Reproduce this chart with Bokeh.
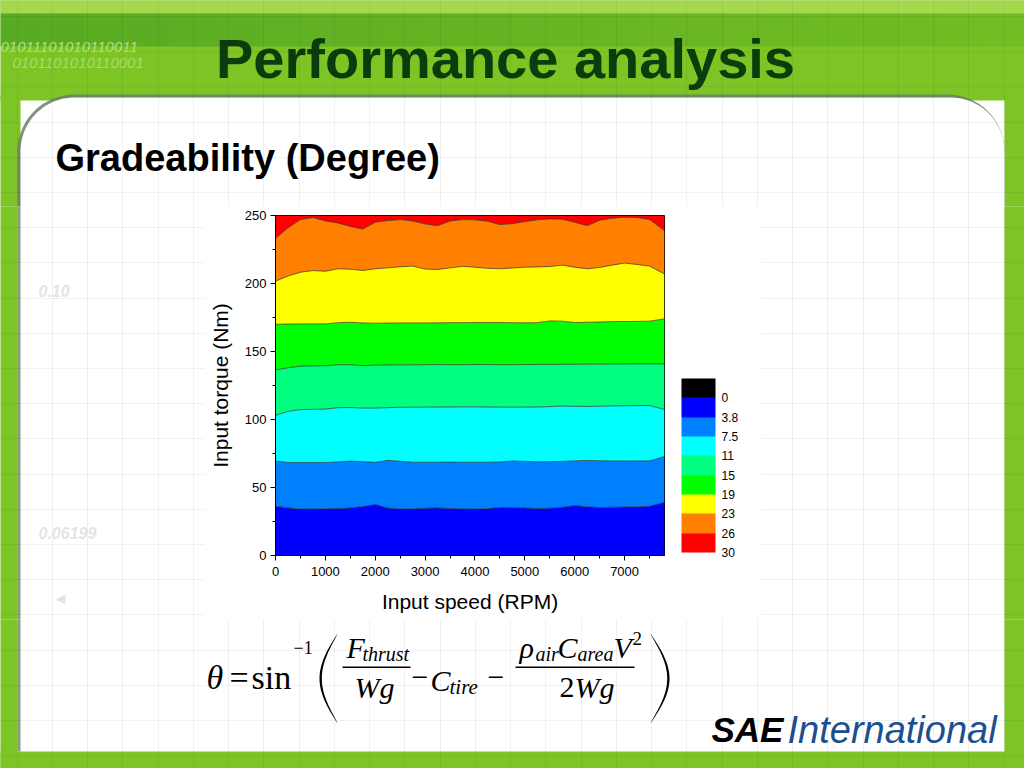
import numpy as np
from bokeh.plotting import figure
from bokeh.layouts import column, row
from bokeh.models import (Range1d, FixedTicker, ColorBar, LinearColorMapper, Grid,
                          AllLabels)
from bokeh.core.properties import value
from bokeh.embed import file_html
from bokeh.resources import INLINE

# ---------------- data ----------------
rpm = [0, 250, 500, 750, 1000, 1250, 1500, 1750, 2000, 2250, 2500, 2750, 3000, 3250,
       3500, 3750, 4000, 4250, 4500, 4750, 5000, 5250, 5500, 5750, 6000, 6250, 6500,
       6750, 7000, 7250, 7500, 7800]

# contour boundaries (Nm) between gradeability bands
c_3_8 = [36.3, 35.0, 34.1, 34.2, 34.3, 34.6, 35.0, 36.0, 37.5, 35.0, 34.1, 34.3, 34.8, 35.0,
         34.6, 34.2, 34.1, 34.5, 35.3, 35.3, 35.0, 34.6, 34.8, 35.5, 36.8, 35.8, 35.3,
         35.5, 35.6, 35.8, 36.2, 39.2]
c_7_5 = [69.4, 68.4, 68.4, 68.4, 68.4, 68.8, 69.4, 69.0, 68.5, 70.0, 69.3, 68.6, 68.6, 68.6,
         68.7, 68.6, 68.6, 68.6, 68.8, 69.5, 69.2, 68.9, 69.0, 69.2, 69.6, 69.9, 69.7,
         69.5, 69.5, 69.5, 69.6, 72.8]
c_11 = [103.0, 106.0, 107.3, 107.5, 107.6, 108.7, 108.8, 108.4, 108.4, 108.7, 109.0, 109.0,
        109.1, 109.2, 109.2, 109.3, 109.3, 109.2, 109.1, 109.1, 109.1, 109.2, 109.5, 109.9,
        109.7, 109.6, 109.8, 110.0, 110.1, 110.2, 110.3, 107.4]
c_15 = [136.5, 138.0, 139.3, 139.4, 139.5, 140.3, 140.3, 139.6, 140.0, 140.1, 140.2, 140.2,
        140.3, 140.4, 140.3, 140.3, 140.4, 140.4, 140.3, 140.3, 140.4, 140.5, 140.5, 140.6,
        140.6, 140.7, 140.7, 140.8, 140.8, 140.9, 140.9, 140.9]
c_19 = [170.0, 170.2, 170.3, 170.3, 170.3, 171.2, 171.5, 171.0, 170.8, 170.9, 171.0, 171.0,
        171.0, 171.1, 171.2, 171.2, 171.3, 171.3, 171.3, 171.2, 171.1, 171.2, 172.5, 172.3,
        171.3, 171.5, 171.7, 172.0, 172.0, 172.1, 172.3, 174.0]
c_23 = [201.7, 205.5, 208.3, 209.5, 209.0, 210.8, 210.5, 209.6, 210.8, 211.5, 212.3, 212.8,
        210.6, 210.3, 211.5, 212.6, 212.0, 211.2, 210.8, 211.4, 212.0, 212.2, 212.5, 213.5,
        212.0, 210.8, 211.8, 213.5, 215.0, 214.0, 212.8, 207.0]
c_26 = [233.0, 241.0, 247.0, 248.5, 246.0, 244.5, 242.0, 240.0, 245.0, 246.3, 247.0, 246.0,
        243.8, 242.5, 246.0, 247.0, 246.8, 245.8, 243.3, 244.0, 245.5, 246.8, 247.5, 247.3,
        245.0, 242.5, 246.5, 248.0, 248.8, 248.5, 247.0, 239.0]

torque_min, torque_max = 0, 250
rpm_min, rpm_max = 0, 7800

band_colors = ["#0000ff", "#0080ff", "#00ffff", "#00ff80", "#00ff00",
               "#ffff00", "#ff8000", "#ff0000"]
legend_colors = ["#000000"] + band_colors          # top to bottom
legend_levels = [0, 3.75, 7.5, 11.25, 15, 18.75, 22.5, 26.25, 30]
legend_labels = ["0", "3.8", "7.5", "11", "15", "19", "23", "26", "30"]

x_ticks = [0, 1000, 2000, 3000, 4000, 5000, 6000, 7000]
x_minor = [500, 1500, 2500, 3500, 4500, 5500, 6500, 7500]
y_ticks = [0, 50, 100, 150, 200, 250]
y_minor = [25, 75, 125, 175, 225]

title_text = "Performance analysis"
subtitle_text = "Gradeability (Degree)"
x_label = "Input speed (RPM)"
y_label = "Input torque (Nm)"

# ---------------- slide layout constants (pixels) ----------------
SW, SH = 1024, 768
TOP_H = 207            # header strip: 0 .. 207
ROW_Y0 = 206           # chart row overlaps header by 1px
MID_Y1 = 620           # bottom of chart row
BOT_Y0 = 619           # bottom strip overlaps chart row by 1px
LEFT_W = 205
CHART_X1 = 760
GREEN = "#7cc524"
SHADOW = "#8e9986"
E = 6                  # overdraw beyond a panel's edge (clipped anyway)
grid_x = list(np.arange(16.5, SW, 35.25))
grid_y = list(np.arange(16.0, SH, 35.2))
SANS = "Liberation Sans"
SERIF = "Liberation Serif"


def bg_fig(x0, x1, y0, y1):
    f = figure(width=x1 - x0, height=y1 - y0, x_range=Range1d(x0, x1),
               y_range=Range1d(y1, y0), x_axis_type=None, y_axis_type=None,
               toolbar_location=None, output_backend="svg", min_border=0,
               outline_line_color=None, title=None, frame_align=False)
    f.background_fill_color = "white"
    f.border_fill_color = "white"
    f.add_layout(Grid(dimension=0, ticker=FixedTicker(ticks=grid_x), level="overlay",
                      grid_line_color="black", grid_line_alpha=0.055, grid_line_width=1))
    f.add_layout(Grid(dimension=1, ticker=FixedTicker(ticks=grid_y), level="overlay",
                      grid_line_color="black", grid_line_alpha=0.055, grid_line_width=1))
    return f


def quad(f, x0, y0, x1, y1, color, alpha=1.0):
    f.quad(left=x0, right=x1, top=y0, bottom=y1, fill_color=color, fill_alpha=alpha,
           line_color=None)


def txt(f, s, x, y, size, color="black", font=SANS, style="normal", align="left",
        alpha=1.0):
    f.text(x=[x], y=[y], text=[s], text_font=value(font),
           text_font_size=value(f"{size}px"), text_font_style=value(style),
           text_color=color, text_alpha=alpha, text_align=value(align),
           text_baseline=value("middle"))


def rounded_top(x0, x1, ytop, ybot, r, n=40):
    a = np.linspace(np.pi, 1.5 * np.pi, n)
    b = np.linspace(1.5 * np.pi, 2 * np.pi, n)
    xs = [x0] + list(x0 + r + r * np.cos(a)) + list(x1 - r + r * np.cos(b)) + [x1]
    ys = [ybot] + list(ytop + r + r * np.sin(a)) + list(ytop + r + r * np.sin(b)) + [ybot]
    return xs, ys


# ---------------- header ----------------
top = bg_fig(0, SW, 0, TOP_H)
quad(top, -E, -E, SW + E, 100, GREEN)
quad(top, -E, -E, SW + E, 13, "#a4d94e")
n_steps = 24
for k in range(n_steps):
    xa = SW * k / n_steps - (E if k == 0 else 0)
    xb = SW * (k + 1) / n_steps + (E if k == n_steps - 1 else 0)
    quad(top, xa, 13, xb, 46, "#3d9522", 0.55 - 0.4 * k / (n_steps - 1))
quad(top, -E, 95, 20, TOP_H + E, GREEN)
quad(top, 1004, 95, SW + E, TOP_H + E, GREEN)
sx, sy = rounded_top(17, 1004, 94, TOP_H + E, 57)
top.patch(sx, sy, fill_color="#6e7e66", fill_alpha=0.85, line_color=None)
wx, wy = rounded_top(20, 1004, 97, TOP_H + E, 54)
top.patch(wx, wy, fill_color="white", line_color=None)
txt(top, "01011101010110011", 0, 46, 15, "#c9e99f", style="italic", alpha=0.8)
txt(top, "0101101010110001", 12, 62, 15, "#c9e99f", style="italic", alpha=0.6)
txt(top, title_text, 505, 58, 56, "#0c3c0c", style="bold", align="center")
txt(top, subtitle_text, 55, 157, 38, "black", style="bold")

# ---------------- left strip ----------------
left = bg_fig(0, LEFT_W, ROW_Y0, MID_Y1)
quad(left, -E, ROW_Y0 - E, 17, MID_Y1 + E, GREEN)
quad(left, 17, ROW_Y0 - E, 20, MID_Y1 + E, SHADOW)
txt(left, "0.10", 38, 290, 16, "#e4e4e4", style="bold italic")
txt(left, "0.06199", 38, 532, 16, "#e4e4e4", style="bold italic")
txt(left, "◄", 52, 598, 16, "#e4e4e4")

# ---------------- contour chart ----------------
FL, FB = 275, 555
p = figure(width=CHART_X1 - LEFT_W, height=MID_Y1 - ROW_Y0, output_backend="svg",
           toolbar_location=None, title=None, frame_align=False,
           x_range=Range1d(rpm_min, rpm_max), y_range=Range1d(torque_min, torque_max),
           min_border_left=FL - LEFT_W, min_border_right=CHART_X1 - 664,
           min_border_top=215 - ROW_Y0, min_border_bottom=MID_Y1 - FB)
p.background_fill_color = "white"
p.border_fill_color = "white"
p.outline_line_color = "black"
p.outline_line_width = 1
p.xgrid.visible = False
p.ygrid.visible = False

bounds = [[torque_min] * len(rpm), c_3_8, c_7_5, c_11, c_15, c_19, c_23, c_26,
          [torque_max] * len(rpm)]
for i, col in enumerate(band_colors):
    p.varea(x=rpm, y1=bounds[i], y2=bounds[i + 1], fill_color=col)
for line in bounds[1:-1]:
    p.line(rpm, line, line_color="#2a2a2a", line_width=0.8, line_alpha=0.85)

for ax, ticks, minor in ((p.xaxis, x_ticks, x_minor), (p.yaxis, y_ticks, y_minor)):
    ax.ticker = FixedTicker(ticks=ticks, minor_ticks=minor)
    ax.axis_line_color = "black"
    ax.major_tick_line_color = "black"
    ax.minor_tick_line_color = "black"
    ax.major_tick_out = 5
    ax.major_tick_in = 0
    ax.minor_tick_out = 3
    ax.minor_tick_in = 0
    ax.major_label_text_font = SANS
    ax.major_label_text_font_size = "13px"
    ax.major_label_text_color = "black"
    ax.axis_label_text_font = SANS
    ax.axis_label_text_font_size = "21px"
    ax.axis_label_text_font_style = "normal"
    ax.axis_label_text_color = "black"
p.xaxis.axis_label = x_label
p.yaxis.axis_label = y_label
p.xaxis.major_label_standoff = 6
p.yaxis.major_label_standoff = 4
p.xaxis.axis_label_standoff = 11
p.yaxis.axis_label_standoff = 10

cmap = LinearColorMapper(palette=list(reversed(legend_colors)),
                         low=-legend_levels[-1], high=legend_levels[1])
cb_ticks = [(-v if v else 0.0) for v in legend_levels]
cb = ColorBar(color_mapper=cmap, location=(681 - FL - 10, FB - 552 - 10),
              width=34, height=174, padding=10,
              ticker=FixedTicker(ticks=cb_ticks),
              major_label_overrides={t: s for t, s in zip(cb_ticks, legend_labels)},
              major_label_policy=AllLabels(),
              major_tick_line_color=None, bar_line_color=None, border_line_color=None,
              background_fill_color="white", background_fill_alpha=0.0,
              label_standoff=6, major_label_text_font=SANS,
              major_label_text_font_size="12px", major_label_text_color="black")
p.add_layout(cb)

# ---------------- right strip ----------------
right = bg_fig(CHART_X1, SW, ROW_Y0, MID_Y1)
quad(right, 1004, ROW_Y0 - E, SW + E, MID_Y1 + E, GREEN)

# ---------------- bottom: formula + logo ----------------
bot = bg_fig(0, SW, BOT_Y0, SH)
quad(bot, -E, BOT_Y0 - E, 17, SH + E, GREEN)
quad(bot, 17, BOT_Y0 - E, 20, 751, SHADOW)
quad(bot, 1004, BOT_Y0 - E, SW + E, SH + E, GREEN)
quad(bot, -E, 751, SW + E, SH + E, GREEN)

# (text, left x, baseline y, size, style)
parts = [
    ("θ", 206, 688, 34, "italic"), ("=", 229, 688, 34, "normal"),
    ("sin", 251, 688, 34, "normal"), ("−1", 293, 653, 18, "normal"),
    ("F", 346, 657, 30, "italic"), ("thrust", 362, 660, 20, "italic"),
    ("Wg", 354, 697, 30, "italic"),
    ("−", 411, 687, 30, "normal"),
    ("C", 430, 690, 30, "italic"), ("tire", 449, 694, 21, "italic"),
    ("−", 487, 687, 30, "normal"),
    ("ρ", 519, 657, 30, "italic"), ("air", 535, 660, 20, "italic"),
    ("C", 557, 657, 30, "italic"), ("area", 577, 660, 20, "italic"),
    ("V", 613, 657, 30, "italic"), ("2", 632, 644, 19, "normal"),
    ("2", 559, 697, 30, "normal"), ("Wg", 574, 697, 30, "italic"),
]
for t, x, y, sz, st in parts:
    txt(bot, t, x, y - 0.3375 * sz, sz, "black", font=SERIF, style=st)
quad(bot, 342, 666, 410, 667.5, "black")
quad(bot, 515, 666, 634, 667.5, "black")


def paren(f, tip_x, mid_x, y0, y1, thick):
    t = np.linspace(0, 1, 50)
    ys = y0 + (y1 - y0) * t
    outer = tip_x + (mid_x - tip_x) * np.sin(np.pi * t)
    sign = 1 if mid_x < tip_x else -1
    inner = outer + sign * thick * np.sin(np.pi * t) ** 0.6
    f.patch(list(outer) + list(inner[::-1]), list(ys) + list(ys[::-1]),
            fill_color="black", line_color=None)


paren(bot, 337, 319, 633, 723, 2.3)
paren(bot, 650, 669, 633, 723, 2.3)

txt(bot, "SAE", 711, 729, 35, "black", style="bold italic")
txt(bot, "International", 787, 729, 38, "#1c4f90", style="italic")

mid_row = row(left, p, right, margin=(ROW_Y0 - TOP_H, 0, 0, 0))
bot.margin = (BOT_Y0 - MID_Y1, 0, 0, 0)
layout = column(top, mid_row, bot)
open("out.html", "w").write(file_html(layout, INLINE))
